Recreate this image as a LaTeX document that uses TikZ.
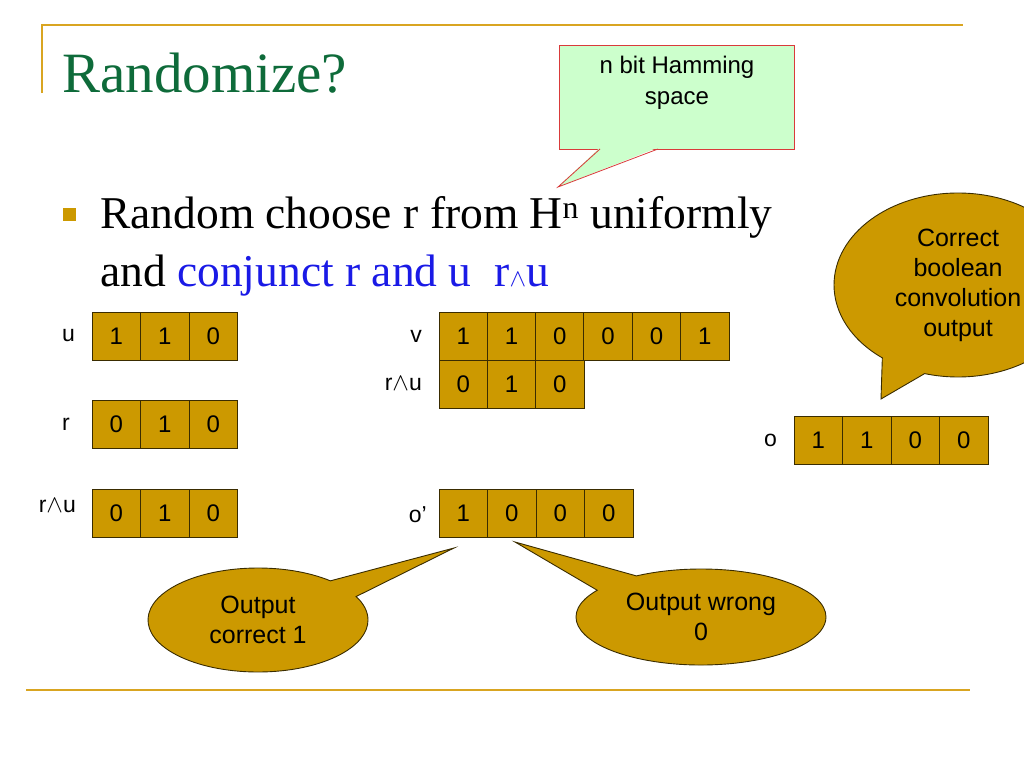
\documentclass[tikz,border=0pt]{standalone}
\usepackage{fontspec}
\setmainfont{Liberation Serif}
\setsansfont{Liberation Sans}
\usetikzlibrary{positioning,shapes.callouts}
\definecolor{cellgold}{HTML}{CC9900}
\definecolor{cellline}{HTML}{3A2C00}
\definecolor{slidegold}{HTML}{D9A521}
\definecolor{titlegreen}{HTML}{0E6B3A}
\definecolor{termblue}{HTML}{1A1AE6}
\definecolor{notegreen}{HTML}{CCFFCC}
\definecolor{notered}{HTML}{D93A3A}
\tikzset{bitcell/.style={rectangle,draw=cellline,fill=cellgold,line width=.9pt,minimum width=48.5pt,minimum height=48pt,inner sep=0pt,outer sep=0pt,anchor=north west,font=\sffamily\fontsize{24}{28}\selectfont},rowlabel/.style={inner sep=0pt,font=\sffamily\fontsize{23}{27}\selectfont},bubble/.style={ellipse callout,draw=cellline,fill=cellgold,line width=.9pt,inner sep=0pt,align=center,font=\sffamily\fontsize{25}{30}\selectfont},slideline/.style={draw=slidegold,line width=2pt},bodytext/.style={anchor=base west,inner sep=0pt,font=\fontsize{45.5}{48}\selectfont}}

\begin{document}
\begin{tikzpicture}[x=1pt,y=-1pt]
\useasboundingbox (0,0) rectangle (1024,768);
% slide frame
\draw[slideline] (42,93) -- (42,25) -- (963,25);
\draw[slideline] (26,690) -- (970,690);
\node[anchor=base west,inner sep=0pt,text=titlegreen,font=\fontsize{57}{60}\selectfont] (title) at (62,92) {Randomize?};
% bullet
\node[rectangle,fill=cellgold,minimum size=13pt,inner sep=0pt] (bullet) at (69,214) {};
\node[bodytext] (line1) at (100,228) {Random choose r from H\textsuperscript{n} uniformly};
\node[bodytext] (line2) at (100,286) {and \textcolor{termblue}{conjunct r and u\ \ r$\wedge$u}};
% note on the Hamming space
\node[rectangle,draw=notered,fill=notegreen,line width=.8pt,minimum width=235pt,minimum height=104pt] (hamming) at (677,97) {};
\coordinate (hamtip) at (558,187);
\fill[notegreen] (600,147.5) -- (hamtip) -- (658,147.5) -- cycle;
\draw[notered,line width=.8pt] (600,149) -- (hamtip) -- (658,149);
\node[align=center,inner sep=0pt,font=\sffamily\fontsize{24}{31}\selectfont] (hamtext) at (677,83) {n bit Hamming\\space};
% bit vectors
\foreach \b [count=\i] in {1,1,0} {\node[bitcell] (u\i) at ({92+48.5*(\i-1)},312) {\b};}
\foreach \b [count=\i] in {0,1,0} {\node[bitcell] (r\i) at ({92+48.5*(\i-1)},400) {\b};}
\foreach \b [count=\i] in {0,1,0} {\node[bitcell] (ru\i) at ({92+48.5*(\i-1)},489) {\b};}
\foreach \b [count=\i] in {1,1,0,0,0,1} {\node[bitcell] (v\i) at ({439+48.3*(\i-1)},312) {\b};}
\foreach \b [count=\i] in {0,1,0} {\node[bitcell] (vru\i) at ({439+48.3*(\i-1)},360) {\b};}
\foreach \b [count=\i] in {1,0,0,0} {\node[bitcell] (op\i) at ({439+48.5*(\i-1)},489) {\b};}
\foreach \b [count=\i] in {1,1,0,0} {\node[bitcell] (o\i) at ({794+48.5*(\i-1)},416) {\b};}
\node[rowlabel,left=17pt of u1] (ulabel) {u};
\node[rowlabel,left=22pt of r1] (rlabel) {r};
\node[rowlabel,left=16pt of ru1,yshift=7pt] (rulabel) {r$\wedge$u};
\node[rowlabel,left=17pt of v1] (vlabel) {v};
\node[rowlabel,left=17pt of vru1] (vrulabel) {r$\wedge$u};
\node[rowlabel,left=12pt of op1,yshift=-2pt] (oplabel) {o’};
\node[rowlabel,left=17pt of o1] (olabel) {o};
% speech bubbles
\node[bubble,minimum width=248pt,minimum height=184pt,callout absolute pointer={(881,399)},callout pointer arc=22] (convnote) at (958,285) {Correct\\boolean\\convolution\\output};
\node[bubble,minimum width=220pt,minimum height=104pt,callout absolute pointer={(454,548)},callout pointer arc=22] (rightnote) at (258,620) {Output\\correct 1};
\node[bubble,minimum width=250pt,minimum height=96pt,callout absolute pointer={(515,542)},callout pointer arc=25] (wrongnote) at (701,617) {Output wrong\\0};
\end{tikzpicture}
\end{document}
